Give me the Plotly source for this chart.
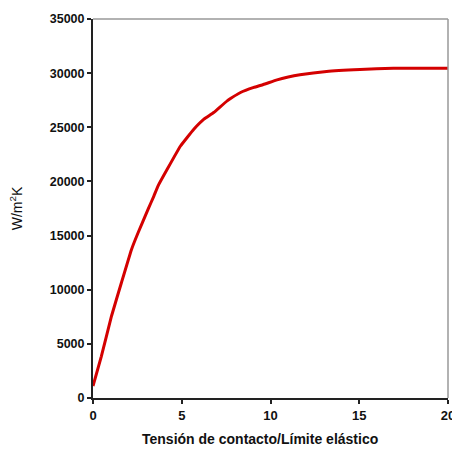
import plotly.graph_objects as go

x_vals = [0, 0.47, 1.04, 1.6, 2.17, 2.54, 3.1, 3.43, 3.66, 4.18, 4.93, 5.68, 6.25, 6.8, 7.56, 8.31, 9.06, 9.6, 10.37, 11.0, 11.66, 13.16, 15.04, 16.92, 18.5, 20]
y_vals = [1100, 3850, 7550, 10640, 13720, 15260, 17420, 18650, 19570, 21120, 23270, 24820, 25750, 26360, 27440, 28210, 28680, 28950, 29380, 29640, 29850, 30160, 30340, 30450, 30460, 30460]

x_ticks = [0, 5, 10, 15, 20]
y_ticks = [0, 5000, 10000, 15000, 20000, 25000, 30000, 35000]

fig = go.Figure()
fig.add_trace(go.Scatter(x=x_vals, y=y_vals, mode="lines",
                         line=dict(color="#d40000", width=3, shape="spline", smoothing=0.3),
                         showlegend=False, hoverinfo="skip"))

font = dict(family="Liberation Sans, Arial, sans-serif", size=13, color="#111111")

fig.update_layout(
    width=452, height=449,
    margin=dict(l=93, r=4, t=19, b=51),
    paper_bgcolor="white", plot_bgcolor="white",
    font=font,
    xaxis=dict(range=[0, 20], tickvals=x_ticks, ticktext=[f"<b>{v}</b>" for v in x_ticks],
               showgrid=False, zeroline=False, showline=True, linecolor="#222", linewidth=2,
               ticks="outside", ticklen=4, tickwidth=1.5, tickcolor="#222",
               ticklabeloverflow="allow", tickfont=dict(size=13), automargin=False),
    yaxis=dict(range=[0, 35000], tickvals=y_ticks, ticktext=[f"<b>{v}</b>" for v in y_ticks],
               showgrid=False, zeroline=False, showline=True, linecolor="#222", linewidth=2,
               ticks="outside", ticklen=4, tickwidth=1.5, tickcolor="#222",
               tickfont=dict(size=12.5), automargin=False,
               title=dict(text="W/m<sup>2</sup>K", standoff=24, font=dict(size=14))),
    annotations=[
        dict(text="<b>Tensión de contacto/Límite elástico</b>", xref="paper", yref="paper",
             x=(260 - 93) / 355, y=-(439 - 398) / 379, xanchor="center", yanchor="middle",
             showarrow=False, font=dict(size=14, color="#111111")),
    ],
    shapes=[
        dict(type="line", xref="paper", yref="paper", x0=0, x1=1, y0=1, y1=1,
             line=dict(color="#999", width=1.5)),
        dict(type="line", xref="paper", yref="paper", x0=1, x1=1, y0=0, y1=1,
             line=dict(color="#999", width=1.5)),
    ],
)

fig.write_html("out.html")
